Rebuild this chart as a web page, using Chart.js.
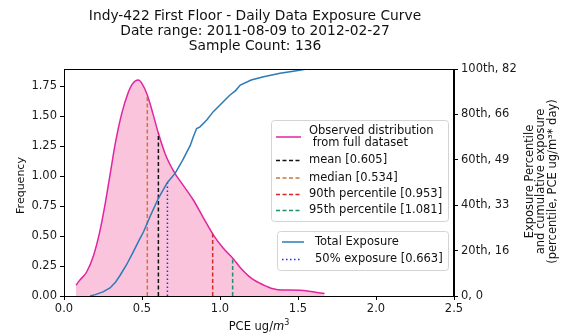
<!DOCTYPE html>
<html>
<head>
<meta charset="utf-8">
<script src="https://cdn.jsdelivr.net/npm/chart.js@4"></script>
<style>
  html, body { margin: 0; padding: 0; background: #fff; }
  canvas { display: block; }
</style>
</head>
<body>
<canvas id="exposureChart" width="562" height="335"></canvas>
<script>
// density curve (PCE ug/m3 -> frequency)
const kdeX = [0.077, 0.10, 0.145, 0.19, 0.23, 0.26, 0.295, 0.33, 0.37, 0.41, 0.44, 0.476, 0.50, 0.534, 0.57, 0.605, 0.65, 0.712, 0.76, 0.829, 0.89, 0.957, 1.02, 1.085, 1.128, 1.19, 1.256, 1.30, 1.34, 1.40, 1.45, 1.51, 1.57, 1.62, 1.67];
const kdeY = [0.09, 0.13, 0.20, 0.34, 0.54, 0.74, 1.01, 1.28, 1.52, 1.69, 1.77, 1.80, 1.77, 1.675, 1.52, 1.356, 1.18, 1.02, 0.93, 0.80, 0.66, 0.51, 0.40, 0.31, 0.24, 0.16, 0.106, 0.08, 0.06, 0.05, 0.05, 0.048, 0.04, 0.03, 0.02];

// cumulative exposure (right axis)
const cumX = [0.167, 0.20, 0.25, 0.295, 0.33, 0.36, 0.40, 0.44, 0.48, 0.51, 0.551, 0.605, 0.663, 0.712, 0.76, 0.81, 0.829, 0.85, 0.87, 0.915, 0.957, 1.0, 1.064, 1.10, 1.13, 1.20, 1.28, 1.385, 1.48, 1.556];
const cumY = [0, 0.5, 1.5, 2.9, 5, 7.5, 11.2, 15.5, 20, 23.2, 28.6, 35.3, 41, 44.3, 49, 54.5, 57.5, 60.5, 61, 63.6, 66.6, 69, 72.6, 74.2, 76.2, 78, 79.2, 80.5, 81.3, 82];

// summary statistics
const statNames = ['mean', 'median', '90th percentile', '95th percentile'];
const statValues = [0.605, 0.534, 0.953, 1.081];
const statColors = ['#111111', '#c8783a', '#d62728', '#1f8f72'];
const halfExposure = 0.663;

// axes
const xTicks = [0, 0.5, 1.0, 1.5, 2.0, 2.5];
const yTicks = [0, 0.25, 0.5, 0.75, 1.0, 1.25, 1.5, 1.75];
const rightTickValues = [0, 16.4, 32.8, 49.2, 65.6, 82];
const rightTickLabels = ['0, 0', '20th, 16', '40th, 33', '60th, 49', '80th, 66', '100th, 82'];

const titleLines = ['Indy-422 First Floor - Daily Data Exposure Curve', 'Date range: 2011-08-09 to 2012-02-27', 'Sample Count: 136'];
const rightTitle = ['Exposure Percentile', 'and cumulative exposure', '(percentile, PCE ug/m³* day)'];

const FONT = '"DejaVu Sans", Verdana, sans-serif';
const pinkLine = '#e0259e';
const pinkFill = '#fac5dc';
const blueLine = '#2b7bb9';
const dotBlue = '#2a2af0';

function interp(xs, ys, v) {
    for (let i = 1; i < xs.length; i++) {
        if (v <= xs[i]) {
            const t = (v - xs[i - 1]) / (xs[i] - xs[i - 1]);
            return ys[i - 1] + t * (ys[i] - ys[i - 1]);
        }
    }
    return ys[ys.length - 1];
}

const toPoints = (xs, ys) => xs.map((x, i) => ({ x: x, y: ys[i] }));

const datasets = [{
    label: 'Observed distribution',
    data: toPoints(kdeX, kdeY),
    borderColor: pinkLine,
    backgroundColor: pinkFill,
    borderWidth: 1.5,
    fill: 'origin',
    cubicInterpolationMode: 'monotone',
    pointRadius: 0,
    yAxisID: 'y',
    order: 10
}];

statValues.forEach((v, i) => {
    datasets.push({
        label: statNames[i],
        data: [{ x: v, y: 0 }, { x: v, y: interp(kdeX, kdeY, v) }],
        borderColor: statColors[i],
        borderWidth: 1.5,
        borderDash: [4, 2.5],
        pointRadius: 0,
        fill: false,
        yAxisID: 'y',
        order: 5
    });
});

datasets.push({
    label: '50% exposure',
    data: [{ x: halfExposure, y: 0 }, { x: halfExposure, y: interp(cumX, cumY, halfExposure) }],
    borderColor: dotBlue,
    borderWidth: 1.5,
    borderDash: [1.5, 2.5],
    pointRadius: 0,
    fill: false,
    yAxisID: 'y2',
    order: 4
});

datasets.push({
    label: 'Total Exposure',
    data: toPoints(cumX, cumY),
    borderColor: blueLine,
    borderWidth: 1.5,
    pointRadius: 0,
    fill: false,
    tension: 0,
    yAxisID: 'y2',
    order: 1
});

// titles, frame and the two legend boxes
const decorations = {
    id: 'decorations',
    afterDraw(chart) {
        const ctx = chart.ctx;
        const area = chart.chartArea;
        const cx = (area.left + area.right) / 2;
        ctx.save();

        ctx.strokeStyle = '#000';
        ctx.lineWidth = 1;
        ctx.strokeRect(area.left + 0.5, area.top + 0.5, area.right - area.left - 1, area.bottom - area.top);

        ctx.fillStyle = '#111';
        ctx.textAlign = 'center';
        ctx.textBaseline = 'middle';
        ctx.font = '13.8px ' + FONT;
        titleLines.forEach((t, i) => ctx.fillText(t, cx - 4, 16 + i * 15));

        // x title with italic m and superscript 3
        ctx.font = '11.5px ' + FONT;
        const a = 'PCE ug/';
        const wa = ctx.measureText(a).width;
        ctx.font = 'italic 11.5px ' + FONT;
        const wm = ctx.measureText('m').width;
        ctx.font = '8px ' + FONT;
        const w3 = ctx.measureText('3').width;
        let x0 = cx - (wa + wm + w3) / 2;
        ctx.textAlign = 'left';
        ctx.textBaseline = 'alphabetic';
        ctx.font = '11.5px ' + FONT;
        ctx.fillText(a, x0, 330);
        ctx.font = 'italic 11.5px ' + FONT;
        ctx.fillText('m', x0 + wa, 330);
        ctx.font = '8px ' + FONT;
        ctx.fillText('3', x0 + wa + wm, 325);

        // left title
        ctx.textAlign = 'center';
        ctx.textBaseline = 'middle';
        ctx.font = '11px ' + FONT;
        ctx.save();
        ctx.translate(21, (area.top + area.bottom) / 2 + 3);
        ctx.rotate(-Math.PI / 2);
        ctx.fillText('Frequency', 0, 0);
        ctx.restore();

        // right title (reads bottom to top)
        ctx.font = '11.5px ' + FONT;
        ctx.save();
        ctx.translate(530, (area.top + area.bottom) / 2 - 1);
        ctx.rotate(-Math.PI / 2);
        rightTitle.forEach((t, i) => ctx.fillText(t, 0, i * 11.5));
        ctx.restore();

        // legend boxes
        const box = (x, y, w, h) => {
            ctx.beginPath();
            ctx.roundRect(x + 0.5, y + 0.5, w, h, 3);
            ctx.fillStyle = 'rgba(255,255,255,0.8)';
            ctx.fill();
            ctx.strokeStyle = '#d4d4d4';
            ctx.lineWidth = 1;
            ctx.stroke();
        };
        const handle = (x1, x2, y, color, dash) => {
            ctx.beginPath();
            ctx.setLineDash(dash);
            ctx.strokeStyle = color;
            ctx.lineWidth = 1.5;
            ctx.moveTo(x1, y);
            ctx.lineTo(x2, y);
            ctx.stroke();
            ctx.setLineDash([]);
        };

        ctx.font = '11.5px ' + FONT;
        ctx.textAlign = 'left';
        ctx.textBaseline = 'middle';

        box(271, 120, 177, 101);
        handle(276, 301, 137, pinkLine, []);
        ctx.fillStyle = '#111';
        ctx.fillText('Observed distribution', 309, 131);
        ctx.fillText(' from full dataset', 309, 143);
        const rows = [160.5, 178, 194.5, 210.5];
        statValues.forEach((v, i) => {
            handle(276, 301, rows[i], statColors[i], [4, 2.5]);
            ctx.fillStyle = '#111';
            ctx.fillText(statNames[i] + ' [' + v.toFixed(3) + ']', 309, rows[i]);
        });

        box(277, 231, 171, 39);
        handle(282, 304, 242, blueLine, []);
        handle(282, 302, 259.5, dotBlue, [1.5, 2.5]);
        ctx.fillStyle = '#111';
        ctx.fillText('Total Exposure', 315, 242);
        ctx.fillText('50% exposure [' + halfExposure.toFixed(3) + ']', 315, 259.5);

        ctx.restore();
    }
};

const tickFont = { family: FONT, size: 11.5 };
const tickColor = '#1a1a1a';

new Chart(document.getElementById('exposureChart'), {
    type: 'line',
    data: { datasets: datasets },
    options: {
        responsive: false,
        animation: false,
        devicePixelRatio: 1,
        layout: { padding: { top: 69, left: 0, right: 0, bottom: 0 } },
        plugins: {
            legend: { display: false },
            tooltip: { enabled: false }
        },
        scales: {
            x: {
                type: 'linear',
                min: 0,
                max: 2.5,
                afterBuildTicks: (s) => { s.ticks = xTicks.map(v => ({ value: v })); },
                afterFit: (s) => { s.height = 39; },
                grid: { drawOnChartArea: false, drawTicks: true, tickLength: 4, color: '#000' },
                border: { display: true, color: '#000', width: 1 },
                ticks: {
                    font: tickFont,
                    color: tickColor,
                    padding: 2,
                    maxRotation: 0,
                    callback: (v) => v.toFixed(1)
                }
            },
            y: {
                position: 'left',
                min: 0,
                max: 1.892,
                afterBuildTicks: (s) => { s.ticks = yTicks.map(v => ({ value: v })); },
                afterFit: (s) => { s.width = 64; },
                grid: { drawOnChartArea: false, drawTicks: true, tickLength: 4, color: '#000' },
                border: { display: true, color: '#000', width: 1 },
                ticks: {
                    font: tickFont,
                    color: tickColor,
                    padding: 3,
                    callback: (v) => v.toFixed(2)
                }
            },
            y2: {
                position: 'right',
                min: 0,
                max: 82,
                afterBuildTicks: (s) => { s.ticks = rightTickValues.map(v => ({ value: v })); },
                afterFit: (s) => { s.width = 108; },
                grid: { drawOnChartArea: false, drawTicks: true, tickLength: 4, color: '#000' },
                border: { display: true, color: '#000', width: 1 },
                ticks: {
                    font: tickFont,
                    color: tickColor,
                    padding: 3,
                    callback: (v, i) => rightTickLabels[i]
                }
            }
        }
    },
    plugins: [decorations]
});
</script>
</body>
</html>
